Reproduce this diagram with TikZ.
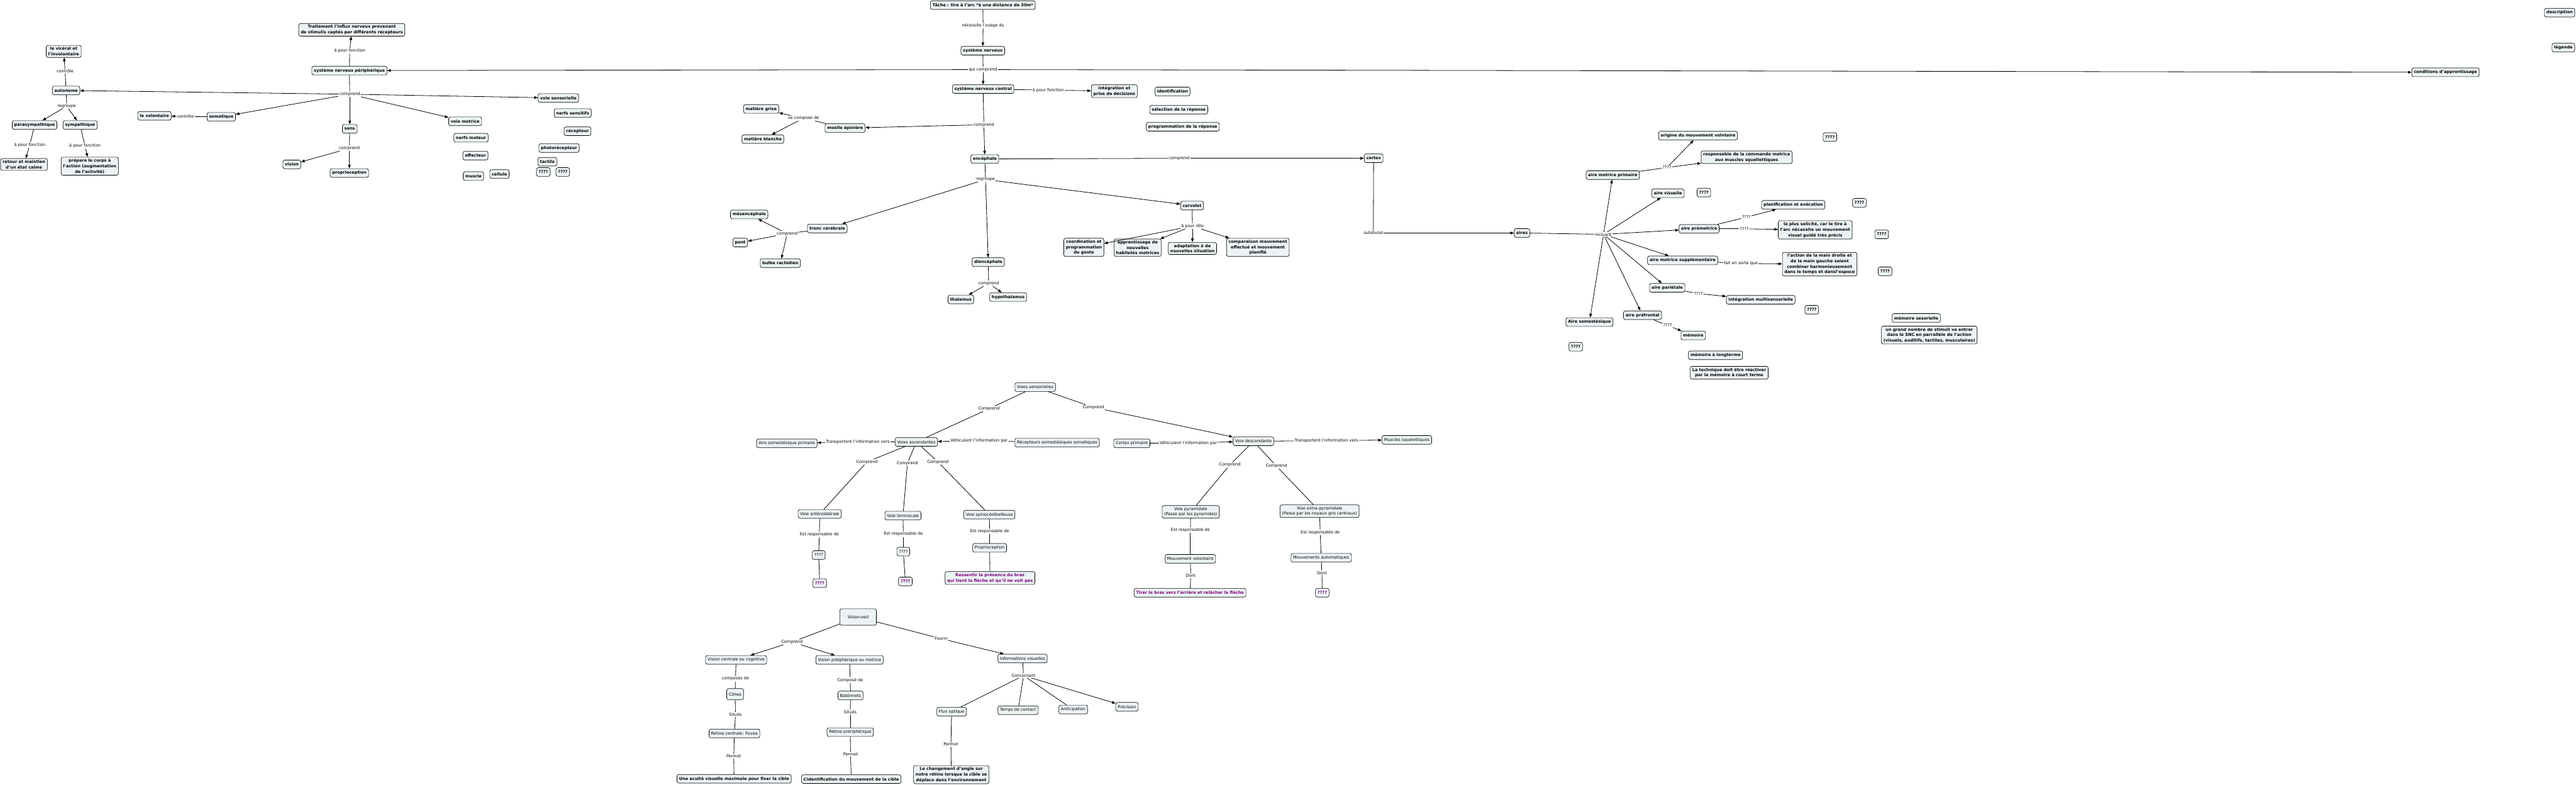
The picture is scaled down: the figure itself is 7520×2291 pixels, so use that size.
\documentclass[tikz,border=0pt]{standalone}
\usepackage{fontspec}
\setmainfont{DejaVu Sans}
\usetikzlibrary{arrows.meta}
\definecolor{nodefill}{RGB}{236,243,245}
\definecolor{leafpurple}{RGB}{128,0,128}
\newcommand{\myfs}{\fontsize{9}{12}\selectfont}
\tikzset{
  box/.style={draw=black, line width=0.9pt, fill=nodefill, rounded corners=4pt, align=center,
              inner xsep=4.5pt, inner ysep=3.5pt, minimum height=19pt, font=\myfs\bfseries},
  boxn/.style={box, font=\myfs},
  boxp/.style={box, text=leafpurple},
  lab/.style={inner sep=1.5pt, font=\myfs},
  con/.style={line width=1.1pt, draw=black},
  arr/.style={con, -{Triangle[length=8pt,width=6pt]}},
}
\begin{document}
\begin{tikzpicture}[x=0.75pt,y=-0.75pt]
\fill[white] (0,0) rectangle (7520,2291);
\useasboundingbox (0,0) rectangle (7520,2291);

% ---------------- top-left: peripheral system
\node[box] (n_traitement) at (1027,87) {Traitement l'influx nerveux provenant\\de stimulis captés par différents récepteurs};
\node[lab] (l_apf3) at (1021,148) {à pour fonction};
\node[box] (n_snp) at (1020,206) {système nerveux périphérique};
\node[lab] (l_comprend1) at (1021,275) {comprend};
\node[box] (n_visceral) at (186,150) {le vicéral et\\l'involontaire};
\node[lab] (l_controle1) at (190,208) {contrôle};
\node[box] (n_autonome) at (193,264) {autonome};
\node[lab] (l_regroupe1) at (195,310) {regroupe};
\node[box] (n_para) at (101,365) {parasympathique};
\node[box] (n_sym) at (234,365) {sympathique};
\node[lab] (l_apf1) at (87,423) {à pour fonction};
\node[lab] (l_apf2) at (248,426) {à pour fonction};
\node[box] (n_retour) at (70,480) {retour et maintien\\d'un état calme};
\node[box] (n_prepare) at (262,485) {prépare le corps à\\l'action (augmentation\\de l'activité)};
\node[box] (n_volontaire) at (451,338) {le volontaire};
\node[lab] (l_controle2) at (541,340) {contrôle};
\node[box] (n_somatique) at (646,341) {somatique};
\node[box] (n_sens) at (1021,376) {sens};
\node[lab] (l_comprend2) at (1020,433) {comprend};
\node[box] (n_vision) at (852,480) {vision};
\node[box] (n_proprio) at (1020,505) {proprioception};
\node[box] (n_voiemot) at (1358,354) {voie motrice};
\node[box] (n_nerfmot) at (1375,402) {nerfs moteur};
\node[box] (n_effecteur) at (1388,454) {effecteur};
\node[box] (n_muscle) at (1382,514) {muscle};
\node[box] (n_cellule) at (1458,508) {cellule};
\node[box] (n_voiesens) at (1630,286) {voie sensorielle};
\node[box] (n_nerfsens) at (1672,330) {nerfs sensitifs};
\node[box] (n_recepteur) at (1686,383) {récepteur};
\node[box] (n_photo) at (1632,432) {photorécepteur};
\node[box] (n_tactile) at (1598,472) {tactile};
\node[box] (n_q1) at (1586,502) {????};
\node[box] (n_q2) at (1643,502) {????};

\draw[con] (n_snp) -- (l_apf3);
\draw[arr] (l_apf3) -- (n_traitement);
\draw[con] (n_snp) -- (l_comprend1);
\draw[arr] (l_comprend1) -- (n_autonome);
\draw[arr] (l_comprend1) -- (n_somatique);
\draw[arr] (l_comprend1) -- (n_sens);
\draw[arr] (l_comprend1) -- (n_voiemot);
\draw[arr] (l_comprend1) -- (n_voiesens);
\draw[con] (n_autonome) -- (l_controle1);
\draw[arr] (l_controle1) -- (n_visceral);
\draw[con] (n_autonome) -- (l_regroupe1);
\draw[arr] (l_regroupe1) -- (n_para);
\draw[arr] (l_regroupe1) -- (n_sym);
\draw[con] (n_para) -- (l_apf1);
\draw[arr] (l_apf1) -- (n_retour);
\draw[con] (n_sym) -- (l_apf2);
\draw[arr] (l_apf2) -- (n_prepare);
\draw[con] (n_somatique) -- (l_controle2);
\draw[arr] (l_controle2) -- (n_volontaire);
\draw[con] (n_sens) -- (l_comprend2);
\draw[arr] (l_comprend2) -- (n_vision);
\draw[arr] (l_comprend2) -- (n_proprio);

% ---------------- middle: central system
\node[box] (n_tache) at (2869,15) {Tâche : tire à l'arc *à une distance de 30m*};
\node[lab] (l_necessite) at (2870,75) {nécessite l'usage du};
\node[box] (n_sn) at (2869,148) {système nerveux};
\node[lab] (l_quicomprend) at (2870,203) {qui comprend};
\node[box] (n_snc) at (2870,260) {système nerveux central};
\node[lab] (l_apf4) at (3060,263) {à pour fonction};
\node[box] (n_integ) at (3253,266) {intégration et\\prise de décisions};
\node[box] (n_ident) at (3423,267) {identification};
\node[box] (n_select) at (3441,320) {sélection de la réponse};
\node[box] (n_progr) at (3453,370) {programmation de la réponse};
\node[lab] (l_comprend3) at (2872,364) {comprend};
\node[box] (n_moelle) at (2467,374) {moelle épinière};
\node[lab] (l_secompose) at (2346,345) {se compose de};
\node[box] (n_mgrise) at (2222,318) {matière grise};
\node[box] (n_mblanche) at (2227,406) {matière blanche};
\node[box] (n_encephale) at (2875,464) {encéphale};
\node[lab] (l_comprend4) at (3442,462) {comprend};
\node[box] (n_cortex) at (4010,462) {cortex};
\node[lab] (l_regroupe2) at (2877,524) {regroupe};
\node[box] (n_tronc) at (2415,667) {tronc cérébrale};
\node[lab] (l_comprend5) at (2298,682) {comprend};
\node[box] (n_mesen) at (2187,626) {mésencéphale};
\node[box] (n_pont) at (2161,708) {pont};
\node[box] (n_bulbe) at (2278,768) {bulbe rachidien};
\node[box] (n_dien) at (2885,765) {diencéphale};
\node[lab] (l_comprend6) at (2886,827) {comprend};
\node[box] (n_thal) at (2805,874) {thalamus};
\node[box] (n_hypo) at (2943,867) {hypothalamus};
\node[box] (n_cervelet) at (3480,600) {cervelet};
\node[lab] (l_role) at (3481,660) {à pour rôle};
\node[box] (n_coord) at (3164,722) {coordination et\\programmation\\du geste};
\node[box] (n_appr) at (3321,723) {apprentissage de\\nouvelles\\habiletés motrices};
\node[box] (n_adapt) at (3481,725) {adaptation à de\\nouvelles situation};
\node[box] (n_compar) at (3672,722) {comparaison mouvement\\effectué et mouvement\\planifié};
\node[lab] (l_subdivise) at (4009,680) {subdivisé};
\node[box] (n_aires) at (4443,680) {aires};
\node[lab] (l_incluant) at (4681,684) {incluant};
\node[box] (n_amp) at (4708,511) {aire motrice primaire};
\node[lab] (l_q_amp) at (4866,489) {????};
\node[box] (n_origine) at (4957,396) {origine du mouvement volntaire};
\node[box] (n_respons) at (5099,459) {responsable de la commande motrice\\aux muscles squellettiques};
\node[box] (n_qa) at (5342,400) {????};
\node[box] (n_avis) at (4869,564) {aire visuelle};
\node[box] (n_qb) at (4974,562) {????};
\node[box] (n_aprem) at (4960,668) {aire prémotrice};
\node[lab] (l_q_prem1) at (5098,634) {????};
\node[box] (n_planif) at (5235,598) {planification et exécution};
\node[box] (n_qc) at (5428,592) {????};
\node[lab] (l_q_prem2) at (5092,668) {????};
\node[box] (n_plus) at (5299,671) {la plus solicité, car le tire à\\l'arc nécessite un mouvement\\visuel guidé très précis};
\node[box] (n_qd) at (5493,684) {????};
\node[box] (n_ams) at (4912,760) {aire motrice supplémentaire};
\node[lab] (l_fait) at (5082,769) {fait en sorte que};
\node[box] (n_action) at (5312,771) {l'action de la main droite et\\de la main gauche soient\\combiner harmonieusement\\dans le temps et dansl'espoce};
\node[box] (n_qe) at (5503,792) {????};
\node[box] (n_apar) at (4867,840) {aire pariétale};
\node[lab] (l_q_par) at (4958,857) {????};
\node[box] (n_intmulti) at (5140,875) {intégration multisensorielle};
\node[box] (n_qf) at (5289,904) {????};
\node[box] (n_apref) at (4795,920) {aire préfrontal};
\node[lab] (l_q_pref) at (4868,950) {????};
\node[box] (n_memoire) at (4943,979) {mémoire};
\node[box] (n_asom) at (4640,940) {Aire somestésique};
\node[box] (n_qg) at (4600,1012) {????};
\node[box] (n_memsens) at (5594,928) {mémoire sesorielle};
\node[box] (n_stimuli) at (5632,978) {un grand nombre de stimuli va entrer\\dans le SNC en parrallèle de l'action\\(visuels, auditifs, tactiles, musculaires)};
\node[box] (n_memlong) at (5008,1037) {mémoire à longterme};
\node[box] (n_technique) at (5048,1088) {La technique doit être réactiver\\par la mémoire à court terme};
\node[box] (n_description) at (7472,37) {description};
\node[box] (n_legende) at (7483,139) {légende};
\node[box] (n_conditions) at (7139,211) {conditions d'apprentissage};

\draw[con] (n_tache) -- (l_necessite);
\draw[arr] (l_necessite) -- (n_sn);
\draw[con] (n_sn) -- (l_quicomprend);
\draw[arr] (l_quicomprend) -- (n_snp);
\draw[arr] (l_quicomprend) -- (n_snc);
\draw[arr] (l_quicomprend) -- (n_conditions);
\draw[con] (n_snc) -- (l_apf4);
\draw[arr] (l_apf4) -- (n_integ);
\draw[con] (n_snc) -- (l_comprend3);
\draw[arr] (l_comprend3) -- (n_moelle);
\draw[arr] (l_comprend3) -- (n_encephale);
\draw[con] (n_moelle) -- (l_secompose);
\draw[arr] (l_secompose) -- (n_mgrise);
\draw[arr] (l_secompose) -- (n_mblanche);
\draw[con] (n_encephale) -- (l_comprend4);
\draw[arr] (l_comprend4) -- (n_cortex);
\draw[con] (n_encephale) -- (l_regroupe2);
\draw[arr] (l_regroupe2) -- (n_tronc);
\draw[arr] (l_regroupe2) -- (n_dien);
\draw[arr] (l_regroupe2) -- (n_cervelet);
\draw[con] (n_tronc) -- (l_comprend5);
\draw[arr] (l_comprend5) -- (n_mesen);
\draw[arr] (l_comprend5) -- (n_pont);
\draw[arr] (l_comprend5) -- (n_bulbe);
\draw[con] (n_dien) -- (l_comprend6);
\draw[arr] (l_comprend6) -- (n_thal);
\draw[arr] (l_comprend6) -- (n_hypo);
\draw[con] (n_cervelet) -- (l_role);
\draw[arr] (l_role) -- (n_coord);
\draw[arr] (l_role) -- (n_appr);
\draw[arr] (l_role) -- (n_adapt);
\draw[arr] (l_role) -- (n_compar);
\draw[con] (n_cortex) -- (l_subdivise);
\draw[arr] (l_subdivise) -- (n_aires);
\draw[con] (n_aires) -- (l_incluant);
\draw[arr] (l_incluant) -- (n_amp);
\draw[arr] (l_incluant) -- (n_avis);
\draw[arr] (l_incluant) -- (n_aprem);
\draw[arr] (l_incluant) -- (n_ams);
\draw[arr] (l_incluant) -- (n_apar);
\draw[arr] (l_incluant) -- (n_apref);
\draw[arr] (l_incluant) -- (n_asom);
\draw[con] (n_amp) -- (l_q_amp);
\draw[arr] (l_q_amp) -- (n_origine);
\draw[arr] (l_q_amp) -- (n_respons);
\draw[con] (n_aprem) -- (l_q_prem1);
\draw[arr] (l_q_prem1) -- (n_planif);
\draw[con] (n_aprem) -- (l_q_prem2);
\draw[arr] (l_q_prem2) -- (n_plus);
\draw[con] (n_ams) -- (l_fait);
\draw[arr] (l_fait) -- (n_action);
\draw[con] (n_apar) -- (l_q_par);
\draw[arr] (l_q_par) -- (n_intmulti);
\draw[con] (n_apref) -- (l_q_pref);
\draw[arr] (l_q_pref) -- (n_memoire);

% ---------------- bottom: pathways
\node[boxn] (n_vsens) at (3022,1130) {Voies sensorielles};
\node[lab] (l_comp_a) at (2887,1193) {Comprend};
\node[lab] (l_comp_b) at (3192,1189) {Comprend};
\node[boxn] (n_vasc) at (2675,1290) {Voies ascendantes};
\node[lab] (l_transp1) at (2504,1290) {Transportent l'information vers};
\node[boxn] (n_asomp) at (2297,1294) {Aire somestésique primaire};
\node[lab] (l_vehic1) at (2858,1286) {Véhiculent l'information par};
\node[boxn] (n_recept) at (3086,1292) {Récepteurs somestésiques somatiques};
\node[boxn] (n_cortexp) at (3304,1294) {Cortex primaire};
\node[lab] (l_vehic2) at (3469,1293) {Véhiculent l'information par};
\node[boxn] (n_vdesc) at (3659,1288) {Voie descendante};
\node[lab] (l_transp2) at (3872,1286) {Transportent l'information vers};
\node[boxn] (n_musclesq) at (4107,1284) {Muscles squelettiques};
\node[lab] (l_comp_c) at (2531,1348) {Comprend};
\node[lab] (l_comp_d) at (2649,1352) {Comprend};
\node[lab] (l_comp_e) at (2738,1348) {Comprend};
\node[boxn] (n_vantero) at (2393,1500) {Voie antérolatérale};
\node[boxn] (n_vlemn) at (2636,1505) {Voie lemniscale};
\node[boxn] (n_vspino) at (2888,1502) {Voie spinocérébelleuse};
\node[lab] (l_resp1) at (2392,1560) {Est responsable de};
\node[lab] (l_resp2) at (2637,1559) {Est responsable de};
\node[lab] (l_resp3) at (2889,1551) {Est responsable de};
\node[boxn] (n_q_ant) at (2390,1620) {????};
\node[boxn] (n_q_lem) at (2637,1610) {????};
\node[boxn] (n_propB) at (2889,1599) {Proprioception};
\node[boxp] (n_qp_ant) at (2393,1702) {????};
\node[boxp] (n_qp_lem) at (2643,1697) {????};
\node[boxp] (n_ressentir) at (2890,1687) {Ressentir la présence du bras\\qui tient la flèche et qu'il ne voit pas};
\node[lab] (l_comp_f) at (3590,1357) {Comprend};
\node[lab] (l_comp_g) at (3726,1360) {Comprend};
\node[boxn] (n_vpyr) at (3476,1494) {Voie pyramidale\\(Passe par les pyramides)};
\node[boxn] (n_vextra) at (3852,1492) {Voie extra-pyramidale\\(Passe par les noyaux gris centraux)};
\node[lab] (l_resp4) at (3475,1547) {Est responsable de};
\node[lab] (l_resp5) at (3854,1554) {Est responsable de};
\node[boxn] (n_mvol) at (3475,1631) {Mouvement volontaire};
\node[boxn] (n_mauto) at (3857,1628) {Mouvements automatiques};
\node[lab] (l_dont1) at (3476,1681) {Dont};
\node[lab] (l_dont2) at (3859,1672) {Dont};
\node[boxp] (n_tirer) at (3474,1730) {Tirer le bras vers l'arrière et relâcher la flèche};
\node[boxp] (n_qp_auto) at (3860,1730) {????};

\draw[con] (n_vsens) -- (l_comp_a);
\draw[con] (l_comp_a) -- (n_vasc);
\draw[con] (n_vsens) -- (l_comp_b);
\draw[arr] (l_comp_b) -- (n_vdesc);
\draw[con] (n_vasc) -- (l_transp1);
\draw[arr] (l_transp1) -- (n_asomp);
\draw[con] (n_recept) -- (l_vehic1);
\draw[arr] (l_vehic1) -- (n_vasc);
\draw[con] (n_cortexp) -- (l_vehic2);
\draw[arr] (l_vehic2) -- (n_vdesc);
\draw[con] (n_vdesc) -- (l_transp2);
\draw[arr] (l_transp2) -- (n_musclesq);
\draw[con] (n_vasc) -- (l_comp_c);
\draw[con] (l_comp_c) -- (n_vantero);
\draw[con] (n_vasc) -- (l_comp_d);
\draw[con] (l_comp_d) -- (n_vlemn);
\draw[con] (n_vasc) -- (l_comp_e);
\draw[con] (l_comp_e) -- (n_vspino);
\draw[con] (n_vantero) -- (l_resp1);
\draw[con] (l_resp1) -- (n_q_ant);
\draw[con] (n_q_ant) -- (n_qp_ant);
\draw[con] (n_vlemn) -- (l_resp2);
\draw[con] (l_resp2) -- (n_q_lem);
\draw[con] (n_q_lem) -- (n_qp_lem);
\draw[con] (n_vspino) -- (l_resp3);
\draw[con] (l_resp3) -- (n_propB);
\draw[con] (n_propB) -- (n_ressentir);
\draw[con] (n_vdesc) -- (l_comp_f);
\draw[con] (l_comp_f) -- (n_vpyr);
\draw[con] (n_vdesc) -- (l_comp_g);
\draw[con] (l_comp_g) -- (n_vextra);
\draw[con] (n_vpyr) -- (l_resp4);
\draw[con] (l_resp4) -- (n_mvol);
\draw[con] (n_mvol) -- (l_dont1);
\draw[con] (l_dont1) -- (n_tirer);
\draw[con] (n_vextra) -- (l_resp5);
\draw[con] (l_resp5) -- (n_mauto);
\draw[con] (n_mauto) -- (l_dont2);
\draw[con] (l_dont2) -- (n_qp_auto);

% ---------------- bottom: vision
\node[boxn, minimum width=80pt, minimum height=36pt] (n_voeil) at (2505,1801) {Vision:oeil};
\node[lab] (l_comp_h) at (2312,1874) {Comprend};
\node[lab] (l_fourni) at (2747,1864) {Fourni};
\node[boxn] (n_vcent) at (2149,1926) {Vision centrale ou cognitive};
\node[boxn] (n_vperi) at (2480,1926) {Vision préiphérique ou motrice};
\node[boxn] (n_infovis) at (2985,1922) {Informations visuelles};
\node[lab] (l_composes) at (2147,1981) {composés de};
\node[lab] (l_compose) at (2482,1985) {Composé de};
\node[lab] (l_concern) at (2988,1972) {Concernant};
\node[boxn, minimum height=24pt] (n_cones) at (2146,2026) {Cônes};
\node[boxn] (n_baton) at (2483,2030) {Batônnets};
\node[lab] (l_situes1) at (2147,2085) {Situés};
\node[lab] (l_situes2) at (2482,2079) {Situés};
\node[boxn] (n_retc) at (2144,2141) {Rétine centrale: Fovea};
\node[boxn] (n_retp) at (2482,2137) {Rétine prériphérique};
\node[lab] (l_permet1) at (2142,2207) {Permet};
\node[lab] (l_permet2) at (2483,2201) {Permet};
\node[box] (n_acuite) at (2143,2273) {Une acuité visuelle maximale pour fixer la cible};
\node[box] (n_identif) at (2485,2274) {L'identification du mouvement de la cible};
\node[boxn] (n_flux) at (2778,2077) {Flux optique};
\node[lab] (l_permet3) at (2776,2173) {Permet};
\node[box] (n_changement) at (2777,2261) {Le changement d'angle sur\\notre rétine lorsque la cible se\\déplace dans l'environnement};
\node[boxn] (n_temps) at (2972,2073) {Temps de contact};
\node[boxn] (n_antic) at (3133,2071) {Anticipation};
\node[boxn] (n_prec) at (3290,2063) {Précision};

\draw[con] (n_voeil) -- (l_comp_h);
\draw[arr] (l_comp_h) -- (n_vcent);
\draw[arr] (l_comp_h) -- (n_vperi);
\draw[con] (n_voeil) -- (l_fourni);
\draw[arr] (l_fourni) -- (n_infovis);
\draw[con] (n_vcent) -- (l_composes);
\draw[con] (l_composes) -- (n_cones);
\draw[con] (n_cones) -- (l_situes1);
\draw[con] (l_situes1) -- (n_retc);
\draw[con] (n_retc) -- (l_permet1);
\draw[con] (l_permet1) -- (n_acuite);
\draw[con] (n_vperi) -- (l_compose);
\draw[con] (l_compose) -- (n_baton);
\draw[con] (n_baton) -- (l_situes2);
\draw[con] (l_situes2) -- (n_retp);
\draw[con] (n_retp) -- (l_permet2);
\draw[con] (l_permet2) -- (n_identif);
\draw[con] (n_infovis) -- (l_concern);
\draw[con] (l_concern) -- (n_flux);
\draw[con] (l_concern) -- (n_temps);
\draw[con] (l_concern) -- (n_antic);
\draw[arr] (l_concern) -- (n_prec);
\draw[con] (n_flux) -- (l_permet3);
\draw[con] (l_permet3) -- (n_changement);
\end{tikzpicture}
\end{document}
